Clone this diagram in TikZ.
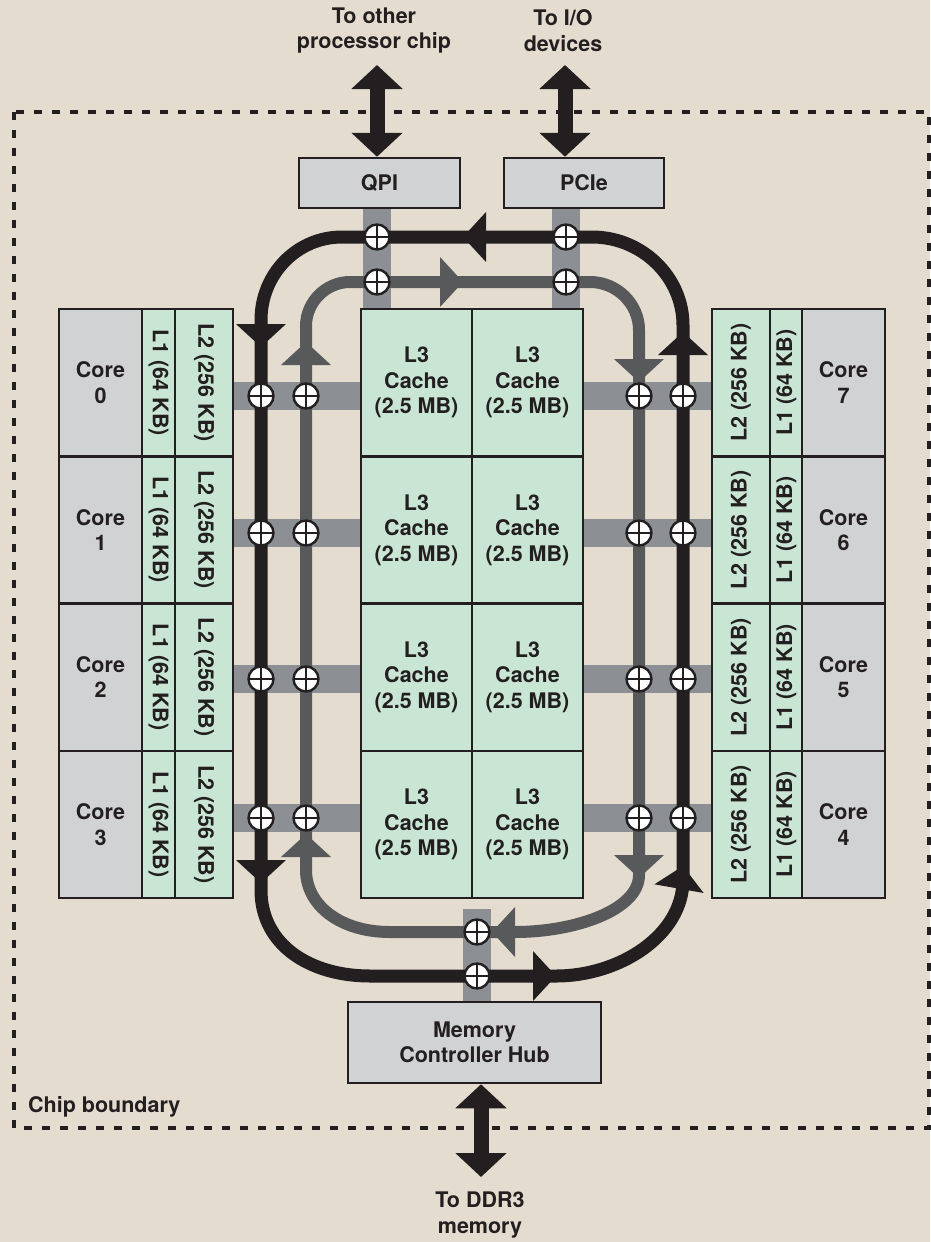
\documentclass[tikz,border=0pt]{standalone}
\usepackage{fontspec}
\setmainfont{TeX Gyre Heros}
\usetikzlibrary{arrows.meta}
\definecolor{bgc}{HTML}{E4DCCF}
\definecolor{blk}{HTML}{231F20}
\definecolor{ringg}{HTML}{58595B}
\definecolor{barc}{HTML}{8C9094}
\definecolor{corefill}{HTML}{D1D2D4}
\definecolor{cachefill}{HTML}{C9E5D3}
\newcommand\lblfont{\fontsize{21.5}{25.5}\selectfont\bfseries}
\pgfdeclarelayer{bgl}
\pgfdeclarelayer{bars}
\pgfdeclarelayer{rings}
\pgfsetlayers{bgl,bars,rings,main}
\begin{document}
\begin{tikzpicture}[x=1pt,y=-1pt,
  lbl/.style={font=\lblfont, align=center, text=blk, inner sep=0pt},
  box/.style={lbl, draw=blk, line width=2.5pt},
  corebox/.style={box, fill=corefill},
  cachebox/.style={box, fill=cachefill},
  bar/.style={draw=barc, line width=28pt},
  ringB/.style={draw=blk, line width=13pt, line join=round},
  ringG/.style={draw=ringg, line width=12pt, line join=round},
  junc/.style={circle, draw=blk, line width=2.4pt, fill=white, minimum size=25pt, inner sep=0pt,
    path picture={\draw[blk, line width=1.8pt] (path picture bounding box.north) -- (path picture bounding box.south)
      (path picture bounding box.west) -- (path picture bounding box.east);}},
  bound/.style={draw=blk, line width=3.2pt, dash pattern=on 8pt off 10pt},
  dbl/.style={draw=blk, line width=15pt, {Triangle[length=24pt,width=50pt]}-{Triangle[length=24pt,width=50pt]}},
  headR/.pic={\fill (0,0) -- (-23,-25) -- (-23,25) -- cycle;}
]
\begin{pgfonlayer}{bgl}
\fill[bgc] (0,0) rectangle (930,1242);
\end{pgfonlayer}
\useasboundingbox (0,0) rectangle (930,1242);

% chip boundary
\draw[bound] (14,112) rectangle (929,1128);
\node[lbl, anchor=west] (chiplbl) at (28,1107) {Chip boundary};

% interface boxes
\node[corebox, minimum width=161pt, minimum height=50pt] (qpi) at (379.5,183) {QPI};
\node[corebox, minimum width=160pt, minimum height=50pt] (pcie) at (584,183) {PCIe};
\node[corebox, minimum width=253pt, minimum height=81pt] (mem) at (474.5,1042.5) {Memory\\Controller Hub};

% rows of cores and caches
\foreach \i in {0,1,2,3}{
  \pgfmathsetmacro\cy{382.625+147.25*\i}
  \pgfmathtruncatemacro\rn{7-\i}
  \node[corebox, minimum width=83pt, minimum height=147.25pt] (coreL\i) at (100.5,\cy) {Core\\\i};
  \node[cachebox, rotate=-90, minimum width=147.25pt, minimum height=33pt] (l1L\i) at (158.5,\cy) {L1 (64 KB)};
  \node[cachebox, rotate=-90, minimum width=147.25pt, minimum height=58pt] (l2L\i) at (204,\cy) {L2 (256 KB)};
  \node[cachebox, minimum width=111pt, minimum height=147.25pt] (l3a\i) at (416.5,\cy) {L3\\Cache\\(2.5 MB)};
  \node[cachebox, minimum width=111pt, minimum height=147.25pt] (l3b\i) at (527.5,\cy) {L3\\Cache\\(2.5 MB)};
  \node[cachebox, rotate=90, minimum width=147.25pt, minimum height=58pt] (l2R\i) at (741,\cy) {L2 (256 KB)};
  \node[cachebox, rotate=90, minimum width=147.25pt, minimum height=33pt] (l1R\i) at (786.5,\cy) {L1 (64 KB)};
  \node[corebox, minimum width=83pt, minimum height=147.25pt] (coreR\i) at (843.5,\cy) {Core\\\rn};
}

% junctions
\foreach \i/\jy in {0/396,1/533,2/679,3/818}{
  \node[junc] (jbL\i) at (261,\jy) {};
  \node[junc] (jgL\i) at (306,\jy) {};
  \node[junc] (jgR\i) at (639,\jy) {};
  \node[junc] (jbR\i) at (683,\jy) {};
}
\node[junc] (jq1) at (377,237) {};
\node[junc] (jq2) at (377,282) {};
\node[junc] (jp1) at (566,237) {};
\node[junc] (jp2) at (566,282) {};
\node[junc] (jm1) at (477,932) {};
\node[junc] (jm2) at (477,976) {};
\coordinate (mbartop) at (477,909);

% grey connection bars
\begin{pgfonlayer}{bars}
\foreach \i in {0,1,2,3}{
  \draw[bar] (jbL\i -| l2L\i.north) -- (jbL\i -| l3a\i.west);
  \draw[bar] (jbR\i -| l3b\i.east) -- (jbR\i -| l2R\i.north);
}
\draw[bar] (jq1 |- qpi.south) -- (jq1 |- l3a0.north);
\draw[bar] (jp1 |- pcie.south) -- (jp1 |- l3b0.north);
\draw[bar] (mbartop) -- (mbartop |- mem.north);
\end{pgfonlayer}

% rings
\begin{pgfonlayer}{rings}
\draw[ringB] (683,880) -- (683,325) .. controls (683,277) and (642,237) .. (592,237)
  -- (342,237) .. controls (297,237) and (261,274) .. (261,320)
  -- (261,890) .. controls (261,945) and (310,976) .. (370,976)
  -- (556,976) .. controls (620,976) and (683,935) .. (683,880) -- cycle;
\draw[ringG] (639,875) -- (639,330) .. controls (639,304) and (617,282) .. (590,282)
  -- (350,282) .. controls (326,282) and (306,302) .. (306,326)
  -- (306,870) .. controls (306,905) and (340,932) .. (390,932)
  -- (515,932) .. controls (575,932) and (639,910) .. (639,875) -- cycle;
% black arrowheads
\pic[fill=blk, rotate=180] at (463,237) {headR};
\pic[fill=blk, rotate=-90] at (261,347) {headR};
\pic[fill=blk, rotate=-90] at (261,883) {headR};
\pic[fill=blk] at (556,976) {headR};
\pic[fill=blk, rotate=80] at (683,866) {headR};
\pic[fill=blk, rotate=90] at (683,332) {headR};
% grey arrowheads
\pic[fill=ringg] at (463,282) {headR};
\pic[fill=ringg, rotate=-90] at (639,382) {headR};
\pic[fill=ringg, rotate=-90] at (639,878) {headR};
\pic[fill=ringg, rotate=180] at (492,932) {headR};
\pic[fill=ringg, rotate=90] at (306,834) {headR};
\pic[fill=ringg, rotate=90] at (306,342) {headR};
\end{pgfonlayer}

% external links
\coordinate (qtip) at (377,65);
\coordinate (ptip) at (565,65);
\coordinate (mtip) at (481,1177);
\draw[dbl] (qtip) -- (qtip |- qpi.north);
\draw[dbl] (ptip) -- (ptip |- pcie.north);
\draw[dbl] (mtip |- mem.south) -- (mtip);
\node[lbl] (qlbl) at (374,30.5) {To other\\processor chip};
\node[lbl] (plbl) at (563,30.5) {To I/O\\devices};
\node[lbl] (mlbl) at (480,1215) {To DDR3\\memory};
\end{tikzpicture}
\end{document}
